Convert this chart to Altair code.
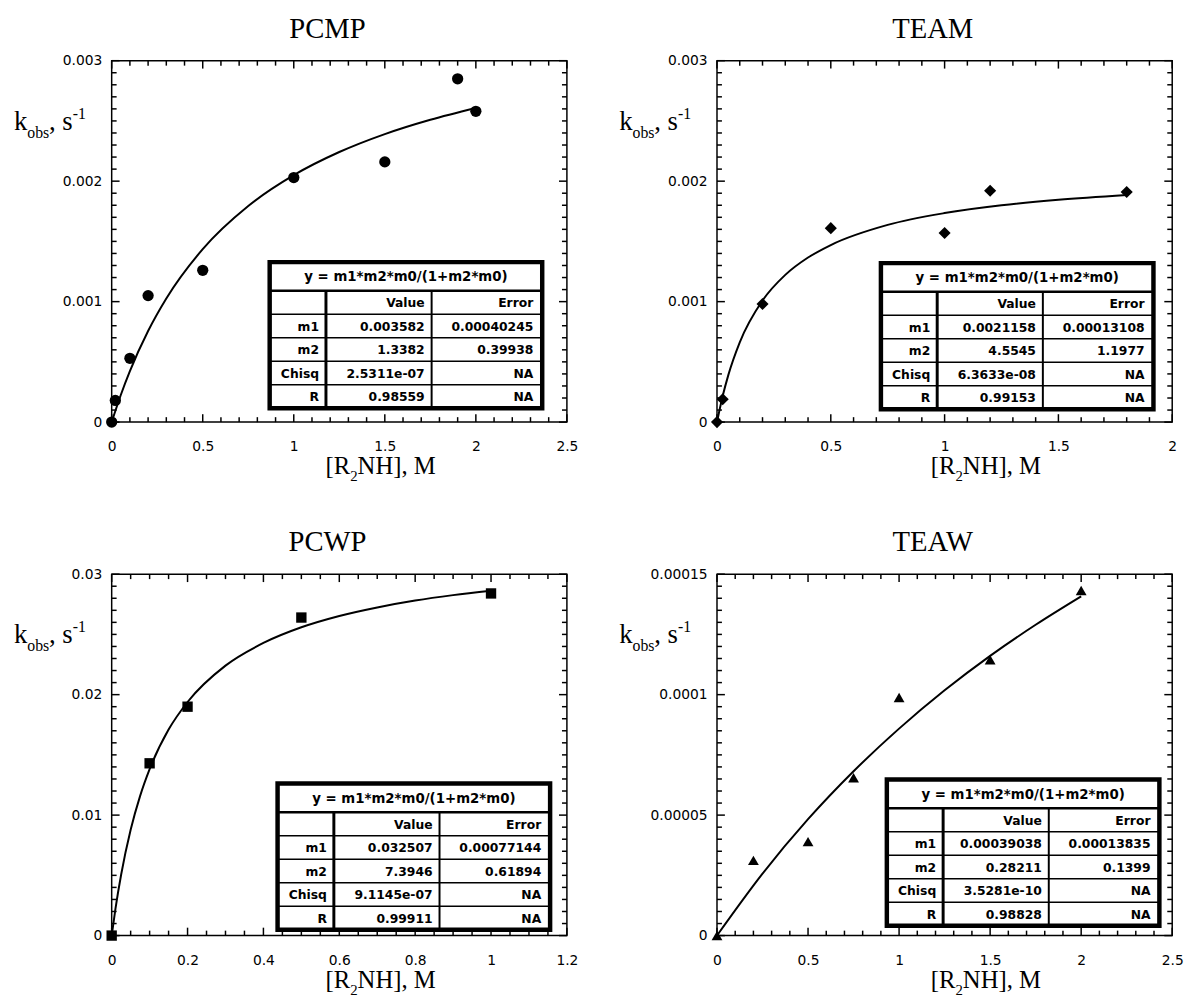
import altair as alt
import pandas as pd

# ---------------- data ----------------
pcmp_x = [0, 0.02, 0.1, 0.2, 0.5, 1.0, 1.5, 1.9, 2.0]
pcmp_y = [0, 0.00018, 0.00053, 0.00105, 0.00126, 0.00203, 0.00216, 0.00285, 0.00258]
pcmp_fit_x = [0, 0.05, 0.1, 0.2, 0.3, 0.5, 0.75, 1.0, 1.25, 1.5, 1.75, 2.0]
pcmp_fit_y = [0, 0.000225, 0.000423, 0.000756, 0.001026, 0.001436, 0.001794,
              0.00205, 0.002242, 0.002391, 0.00251, 0.002608]

team_x = [0, 0.025, 0.2, 0.5, 1.0, 1.2, 1.8]
team_y = [0, 0.00019, 0.00098, 0.00161, 0.00157, 0.00192, 0.00191]
team_fit_x = [0, 0.025, 0.05, 0.1, 0.2, 0.3, 0.4, 0.5, 0.75, 1.0, 1.25, 1.5, 1.8]
team_fit_y = [0, 0.000216, 0.000392, 0.000662, 0.001009, 0.001222, 0.001366,
              0.00147, 0.001637, 0.001735, 0.0018, 0.001846, 0.001886]

pcwp_x = [0, 0.1, 0.2, 0.5, 1.0]
pcwp_y = [0, 0.0143, 0.0190, 0.0264, 0.0284]
pcwp_fit_x = [0, 0.01, 0.025, 0.05, 0.075, 0.1, 0.15, 0.2, 0.3, 0.4, 0.5,
              0.6, 0.7, 0.8, 0.9, 1.0]
pcwp_fit_y = [0, 0.00224, 0.00507, 0.00878, 0.0116, 0.01382, 0.0171, 0.01939,
              0.02241, 0.02429, 0.02559, 0.02653, 0.02724, 0.02781, 0.02826, 0.02863]

teaw_x = [0, 0.2, 0.5, 0.75, 1.0, 1.5, 2.0]
teaw_y = [0, 0.0000312, 0.0000390, 0.0000655, 0.0000988, 0.0001145, 0.0001432]
teaw_fit_x = [0, 0.25, 0.5, 0.75, 1.0, 1.25, 1.5, 1.75, 2.0]
teaw_fit_y = [0, 0.0000257, 0.0000483, 0.0000682, 0.0000859, 0.0001018,
              0.0001161, 0.000129, 0.0001408]

# axis tick labels
pcmp_xticks = [0, 0.5, 1, 1.5, 2, 2.5]
pcmp_yticks = [0, 0.001, 0.002, 0.003]
team_xticks = [0, 0.5, 1, 1.5, 2]
team_yticks = [0, 0.001, 0.002, 0.003]
pcwp_xticks = [0, 0.2, 0.4, 0.6, 0.8, 1, 1.2]
pcwp_yticks = [0, 0.01, 0.02, 0.03]
teaw_xticks = [0, 0.5, 1, 1.5, 2, 2.5]
teaw_yticks = [0, 0.00005, 0.0001, 0.00015]

# fit tables
table_title = "y = m1*m2*m0/(1+m2*m0)"
table_header = ["", "Value", "Error"]
table_params = ["m1", "m2", "Chisq", "R"]
pcmp_value = ["0.003582", "1.3382", "2.5311e-07", "0.98559"]
pcmp_error = ["0.00040245", "0.39938", "NA", "NA"]
team_value = ["0.0021158", "4.5545", "6.3633e-08", "0.99153"]
team_error = ["0.00013108", "1.1977", "NA", "NA"]
pcwp_value = ["0.032507", "7.3946", "9.1145e-07", "0.99911"]
pcwp_error = ["0.00077144", "0.61894", "NA", "NA"]
teaw_value = ["0.00039038", "0.28211", "3.5281e-10", "0.98828"]
teaw_error = ["0.00013835", "0.1399", "NA", "NA"]

# ---------------- layout / style ----------------
W, H = 461, 366
SERIF = "Liberation Serif"
SANS = "DejaVu Sans"
COL_W = [57, 107, 112]
TITLE_H = 29
ROW_H = 23.8
ONE = pd.DataFrame({"a": [0]})


def frange(step, stop):
    n = int(round(stop / step))
    return [round(i * step, 10) for i in range(n + 1)]


def label_text(s, x, y, size, align="left"):
    return alt.Chart(ONE).mark_text(
        text=s, font=SERIF, fontSize=size, align=align, baseline="alphabetic",
        color="black").encode(x=alt.value(x), y=alt.value(y))


def panel(title, px, py, fx, fy, xticks, yticks, xminor, yminor, shape, msize,
          values, errors, tbl_left, tbl_top):
    xmax, ymax = xticks[-1], yticks[-1]
    xs = alt.Scale(domain=[0, xmax], nice=False, zero=False)
    ys = alt.Scale(domain=[0, ymax], nice=False, zero=False)
    xaxis = alt.Axis(values=xticks, labelExpr="'' + datum.value", title=None,
                     grid=False, ticks=False, domain=False, tickSize=0,
                     labelPadding=18, labelFlush=False, labelOverlap=False)
    yaxis = alt.Axis(values=yticks, labelExpr="'' + datum.value", title=None,
                     grid=False, ticks=False, domain=False, tickSize=0,
                     labelPadding=10, labelFlush=False, labelOverlap=False)

    def X(f):
        return alt.X(f, type="quantitative", scale=xs, axis=xaxis)

    def Y(f):
        return alt.Y(f, type="quantitative", scale=ys, axis=yaxis)

    def dx(p):
        return p / W * xmax

    def dy(p):
        return ymax * (1 - p / H)

    layers = []
    # inward ticks along the frame: x ticks (bottom + top)
    xmin_list = [v for v in frange(xminor, xmax) if all(abs(v - q) > 1e-9 for q in xticks)]
    ymin_list = [v for v in frange(yminor, ymax) if all(abs(v - q) > 1e-12 for q in yticks)]
    for vals, L in ((xticks, 8), (xmin_list, 5)):
        dxt = pd.DataFrame({"xt": vals})
        for ypix in (H - L / 2, L / 2):
            layers.append(alt.Chart(dxt).mark_tick(color="black", thickness=1.5, size=L,
                                                   orient="vertical", opacity=1).encode(
                x=alt.X("xt", type="quantitative", scale=xs), y=alt.value(ypix)))
    # y ticks (left + right)
    for vals, L in ((yticks, 8), (ymin_list, 5)):
        dyt = pd.DataFrame({"yt": vals})
        for xpix in (L / 2, W - L / 2):
            layers.append(alt.Chart(dyt).mark_tick(color="black", thickness=1.5, size=L,
                                                   orient="horizontal", opacity=1).encode(
                y=alt.Y("yt", type="quantitative", scale=ys), x=alt.value(xpix)))

    # fitted curve
    fit = pd.DataFrame({"x": fx, "y": fy})
    layers.append(alt.Chart(fit).mark_line(color="black", strokeWidth=2,
                                           interpolate="monotone").encode(x=X("x"), y=Y("y")))
    # data points
    pts = pd.DataFrame({"x": px, "y": py})
    layers.append(alt.Chart(pts).mark_point(shape=shape, filled=True, size=msize,
                                            color="black", opacity=1).encode(x=X("x"), y=Y("y")))

    # table
    tw = sum(COL_W)
    th = TITLE_H + 5 * ROW_H
    l, t = tbl_left, tbl_top
    colx = [l, l + COL_W[0], l + COL_W[0] + COL_W[1], l + tw]
    bg = pd.DataFrame({"x": [dx(l)], "x2": [dx(l + tw)], "y": [dy(t)], "y2": [dy(t + th)]})
    layers.append(alt.Chart(bg).mark_rect(fill="white").encode(
        x=X("x"), x2="x2", y=Y("y"), y2="y2"))
    hy = [t + TITLE_H + r * ROW_H for r in range(1, 5)]
    hl = pd.DataFrame({"x": [dx(l)] * 4, "x2": [dx(l + tw)] * 4, "y": [dy(v) for v in hy]})
    layers.append(alt.Chart(hl).mark_rule(color="black", strokeWidth=1.5).encode(
        x=X("x"), x2="x2", y=Y("y")))
    ht = pd.DataFrame({"x": [dx(l)], "x2": [dx(l + tw)], "y": [dy(t + TITLE_H)]})
    layers.append(alt.Chart(ht).mark_rule(color="black", strokeWidth=2.5).encode(
        x=X("x"), x2="x2", y=Y("y")))
    v1 = pd.DataFrame({"x": [dx(colx[1])], "y": [dy(t + TITLE_H)], "y2": [dy(t + th)]})
    layers.append(alt.Chart(v1).mark_rule(color="black", strokeWidth=3).encode(
        x=X("x"), y=Y("y"), y2="y2"))
    v2 = pd.DataFrame({"x": [dx(colx[2])], "y": [dy(t + TITLE_H)], "y2": [dy(t + th)]})
    layers.append(alt.Chart(v2).mark_rule(color="black", strokeWidth=2).encode(
        x=X("x"), y=Y("y"), y2="y2"))
    layers.append(alt.Chart(bg).mark_rect(fillOpacity=0, stroke="black", strokeWidth=4.5).encode(
        x=X("x"), x2="x2", y=Y("y"), y2="y2"))
    tt = pd.DataFrame({"x": [dx(l + tw / 2)], "y": [dy(t + TITLE_H / 2 + 1)], "t": [table_title]})
    layers.append(alt.Chart(tt).mark_text(font=SANS, fontWeight="bold", fontSize=13.5,
                                          align="center", baseline="middle", color="black").encode(
        x=X("x"), y=Y("y"), text="t:N"))
    rows = [table_header] + [[p, v, e] for p, v, e in zip(table_params, values, errors)]
    recs = []
    for r, row in enumerate(rows):
        yc = t + TITLE_H + (r + 0.5) * ROW_H + 1
        for c, s in enumerate(row):
            if s:
                pad = 9 if c == 2 else 7
                recs.append({"x": dx(colx[c + 1] - pad), "y": dy(yc), "t": s})
    body = pd.DataFrame(recs)
    layers.append(alt.Chart(body).mark_text(font=SANS, fontWeight="bold", fontSize=12.5,
                                            align="right", baseline="middle", color="black").encode(
        x=X("x"), y=Y("y"), text="t:N"))

    # panel title
    layers.append(label_text(title, W / 2 - 12, -23, 29, align="center"))
    # y-axis title: k_obs, s^-1
    ky = 70
    kx = -99
    layers.append(label_text("k", kx, ky, 27))
    layers.append(label_text("obs", kx + 13.5, ky + 8, 16))
    layers.append(label_text(", s", kx + 35.5, ky, 27))
    layers.append(label_text("-1", kx + 35.5 + 24, ky - 11, 16))
    # x-axis title: [R_2NH], M
    cx = W / 2 + 42
    sx = cx - 56
    by = H + 53
    layers.append(label_text("[R", sx, by, 25))
    layers.append(label_text("2", sx + 25, by + 7, 15))
    layers.append(label_text("NH], M", sx + 32.5, by, 25))

    return alt.layer(*layers).properties(width=W, height=H)


p1 = panel("PCMP", pcmp_x, pcmp_y, pcmp_fit_x, pcmp_fit_y, pcmp_xticks, pcmp_yticks,
           0.1, 0.0001, "circle", 130, pcmp_value, pcmp_error, 160, 204)
p2 = panel("TEAM", team_x, team_y, team_fit_x, team_fit_y, team_xticks, team_yticks,
           0.1, 0.0001, "diamond", 150, team_value, team_error, 166, 205)
p3 = panel("PCWP", pcwp_x, pcwp_y, pcwp_fit_x, pcwp_fit_y, pcwp_xticks, pcwp_yticks,
           0.05, 0.001, "square", 110, pcwp_value, pcwp_error, 168, 212)
p4 = panel("TEAW", teaw_x, teaw_y, teaw_fit_x, teaw_fit_y, teaw_xticks, teaw_yticks,
           0.1, 0.000005, "triangle-up", 120, teaw_value, teaw_error, 172, 208)

chart = alt.concat(p1, p2, p3, p4, columns=2, spacing={"row": 154, "column": 152},
                   bounds="flush").configure_view(
    stroke="black", strokeWidth=1.5
).configure_axis(
    labelFont=SANS, labelFontSize=14, labelColor="black"
).properties(
    padding={"left": 5, "top": 0, "right": 5, "bottom": 5},
    background="white"
)

chart.save("out.html", embed_options={"renderer": "svg", "actions": False})
